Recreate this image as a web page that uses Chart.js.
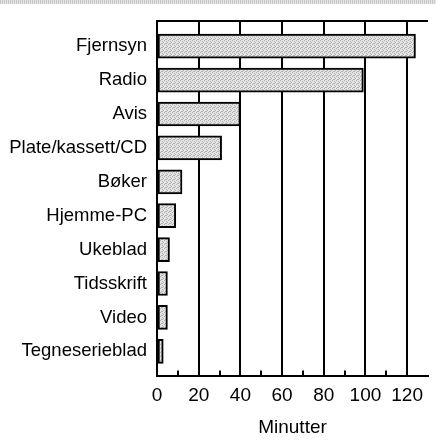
<!DOCTYPE html>
<html>
<head>
<meta charset="utf-8">
<script src="https://cdn.jsdelivr.net/npm/chart.js@4.4.0/dist/chart.umd.min.js"></script>
<style>
  body { margin: 0; background: #fff; }
  #wrap { position: relative; width: 436px; height: 442px; }
  #strip { position: absolute; left: 0; top: 0; width: 436px; height: 4px;
    background: repeating-linear-gradient(90deg, #c8c8c8 0 1px, #e6e6e6 1px 2px); }
</style>
</head>
<body>
<div id="wrap">
  <canvas id="barChart" width="436" height="442"></canvas>
  <div id="strip"></div>
</div>
<script>
// data
var categories = ["Fjernsyn", "Radio", "Avis", "Plate/kassett/CD", "Bøker", "Hjemme-PC",
  "Ukeblad", "Tidsskrift", "Video", "Tegneserieblad"];
var minutes = [124, 99, 40, 31, 12, 9, 6, 5, 5, 3];
var xTicks = [0, 20, 40, 60, 80, 100, 120];
var minorTicks = [10, 30, 50, 70, 90, 110];

// stippled grey fill
function makePattern() {
  var c = document.createElement('canvas');
  c.width = 4; c.height = 4;
  var g = c.getContext('2d');
  g.fillStyle = '#e4e4e4';
  g.fillRect(0, 0, 4, 4);
  g.fillStyle = '#b2b2b2';
  g.fillRect(0, 0, 1, 1); g.fillRect(2, 1, 1, 1);
  g.fillRect(3, 2, 1, 1); g.fillRect(1, 3, 1, 1);
  g.fillRect(2, 3, 1, 1);
  return g.createPattern(c, 'repeat');
}

// top frame line + small upward ticks on the x axis
var framePlugin = {
  id: 'frame',
  afterDraw: function(chart) {
    var ctx = chart.ctx;
    var xs = chart.scales.x;
    var area = chart.chartArea;
    ctx.save();
    ctx.strokeStyle = '#000';
    ctx.lineWidth = 2;
    ctx.beginPath();
    ctx.moveTo(area.left - 1, area.top);
    ctx.lineTo(area.right, area.top);
    ctx.stroke();
    minorTicks.forEach(function(v) {
      var px = Math.round(xs.getPixelForValue(v));
      ctx.beginPath();
      ctx.moveTo(px, area.bottom);
      ctx.lineTo(px, area.bottom - 6);
      ctx.stroke();
    });
    ctx.restore();
  }
};

var points = minutes.map(function(v, i) { return { x: v, y: i }; });

var ctx = document.getElementById("barChart").getContext('2d');
var myChart = new Chart(ctx, {
  type: 'bar',
  data: {
    datasets: [{
      data: points,
      backgroundColor: makePattern(),
      borderColor: '#000',
      borderWidth: 2,
      borderSkipped: false,
      barThickness: 24
    }]
  },
  options: {
    indexAxis: 'y',
    responsive: false,
    animation: false,
    layout: { padding: { top: 15, right: 0, left: 0, bottom: 3 } },
    plugins: { legend: { display: false }, tooltip: { enabled: false } },
    scales: {
      x: {
        type: 'linear',
        min: 0, max: 130,
        border: { display: true, color: '#000', width: 2 },
        grid: {
          color: function(c) {
            var v = c.tick.value;
            return (xTicks.indexOf(v) >= 0) ? '#000' : 'rgba(0,0,0,0)';
          },
          lineWidth: 2,
          tickLength: 0
        },
        ticks: {
          stepSize: 10,
          autoSkip: false,
          maxRotation: 0,
          padding: 8,
          color: '#000',
          font: { family: '"Liberation Sans", Arial', size: 19 },
          callback: function(v) { return xTicks.indexOf(v) >= 0 ? v : ''; }
        },
        title: {
          display: true,
          text: 'Minutter',
          color: '#000',
          padding: { top: 1, bottom: 0 },
          font: { family: '"Liberation Sans", Arial', size: 19 }
        }
      },
      y: {
        type: 'linear',
        reverse: true,
        offset: false,
        min: -0.74, max: 9.74,
        afterFit: function(s) { s.width = 157; },
        border: { display: true, color: '#000', width: 2 },
        grid: { display: false, offset: false, tickLength: 0 },
        ticks: {
          stepSize: 1,
          includeBounds: false,
          autoSkip: false,
          padding: 10,
          color: '#000',
          font: { family: '"Liberation Sans", Arial', size: 18.5 },
          callback: function(v) { return categories[v] !== undefined ? categories[v] : ''; }
        }
      }
    }
  },
  plugins: [framePlugin]
});
</script>
</body>
</html>
